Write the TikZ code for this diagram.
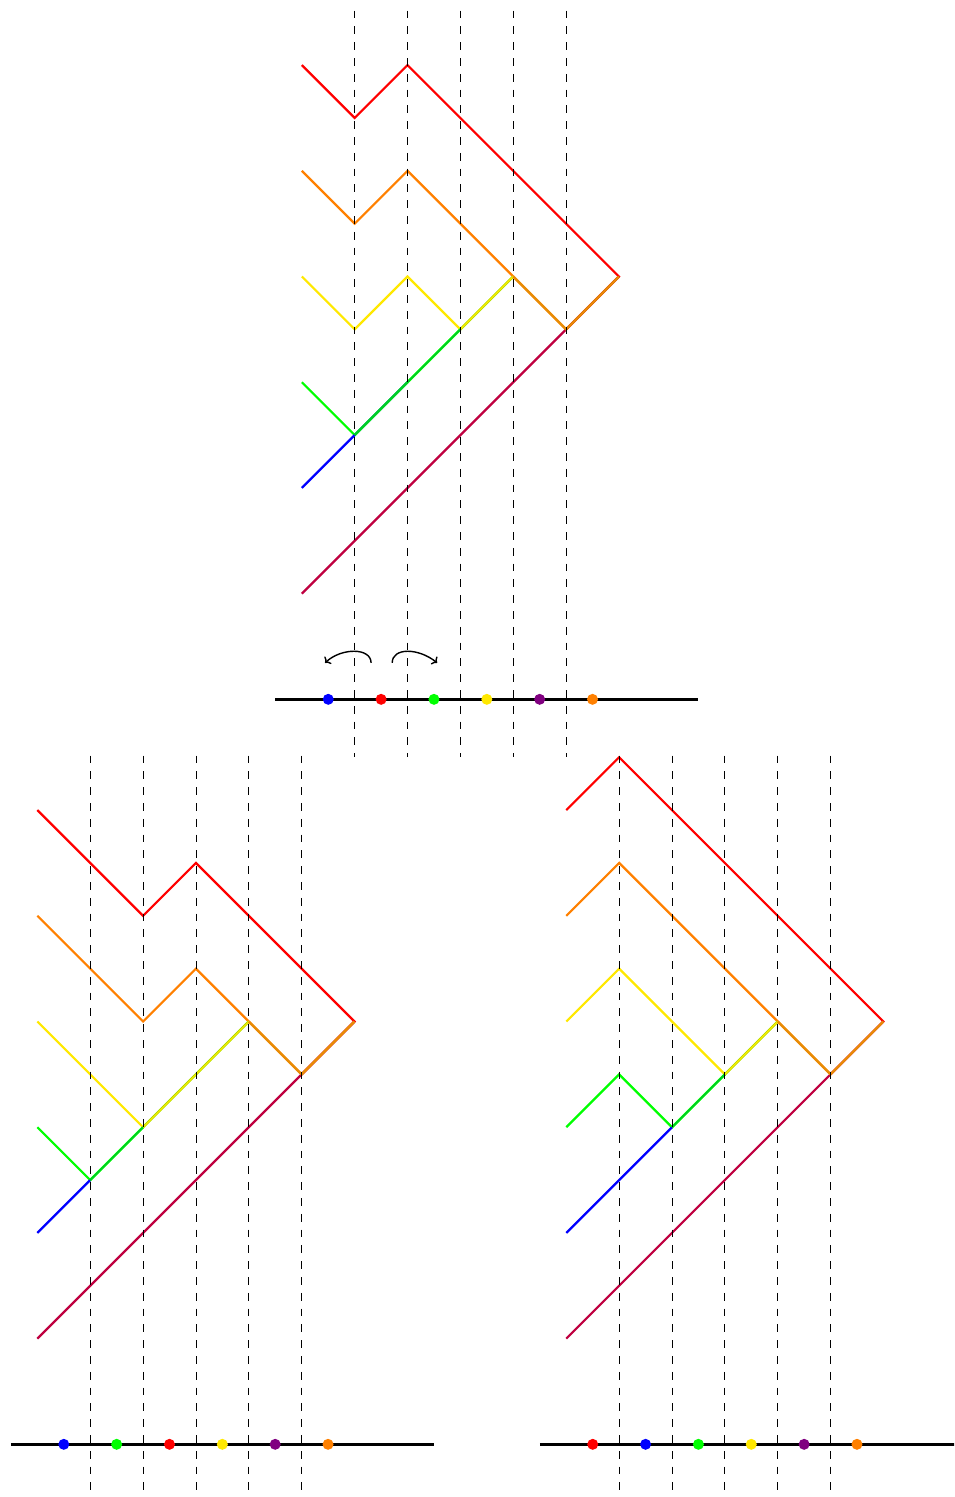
\documentclass[tikz,border=0pt]{standalone}
\usetikzlibrary{arrows.meta}
\definecolor{cred}{RGB}{255,0,0}
\definecolor{corange}{RGB}{255,128,0}
\definecolor{cyellow}{RGB}{255,232,0}
\definecolor{cgreen}{RGB}{0,255,0}
\definecolor{cblue}{RGB}{0,0,255}
\definecolor{cpurple}{RGB}{191,0,64}
\definecolor{cviolet}{RGB}{128,0,128}
\definecolor{mgb}{RGB}{0,180,60}
\definecolor{myg}{RGB}{150,220,0}
\definecolor{morange}{RGB}{232,140,5}
\tikzset{
  strand/.style={draw=#1, line width=2.2pt},
  gbseg/.style={draw=cgreen, line width=0.7pt, double=mgb, double distance=0.8pt},
  ygseg/.style={draw=myg, line width=0.55pt, double=cyellow, double distance=1.1pt},
  omseg/.style={draw=morange, line width=2.2pt},
  gridline/.style={draw=black, line width=0.8pt, dash pattern=on 7.7pt off 8.1pt},
  axisline/.style={draw=black, line width=2.6pt},
  dot/.style={circle, fill=#1, draw=none, inner sep=0pt, minimum size=11pt},
  swaparrow/.style={draw=black, line width=1.4pt, -{To[length=4.5pt,width=10pt]}}
}
\begin{document}
\begin{tikzpicture}[x=52.85pt,y=-52.85pt]
\clip (0,0) rectangle (18.051,28.325);

% ---------------- top diagram ----------------
\begin{scope}[shift={(5.711,1.232)}]
  \draw[strand=cred] (0,0)--(1,1)--(2,0)--(6,4)--(5,5);
  \draw[strand=corange] (0,2)--(1,3)--(2,2)--(5,5)--(6,4);
  \draw[strand=cyellow] (0,4)--(1,5)--(2,4)--(3,5)--(4,4);
  \draw[strand=cgreen] (0,6)--(1,7)--(3,5);
  \draw[strand=cblue] (0,8)--(1,7)--(2,6);
  \draw[strand=cpurple] (0,10)--(5,5)--(6,4);
  \draw[gbseg] (1,7)--(3,5);
  \draw[ygseg] (3,5)--(4,4);
  \draw[omseg] (4,4)--(5,5)--(6,4);
  \draw[axisline] (-0.5,12)--(7.5,12);
  \node[dot=cblue]   (tA) at (0.5,12) {};
  \node[dot=cred]    (tB) at (1.5,12) {};
  \node[dot=cgreen]  (tC) at (2.5,12) {};
  \node[dot=cyellow] (tD) at (3.5,12) {};
  \node[dot=cviolet] (tE) at (4.5,12) {};
  \node[dot=corange] (tF) at (5.5,12) {};
  \foreach \i in {1,...,5} {\draw[gridline] (\i,-1.03)--(\i,13.1);}
  \coordinate (la1) at (1.31,11.31);
  \coordinate (la2) at (0.44,11.31);
  \coordinate (ra1) at (1.71,11.31);
  \coordinate (ra2) at (2.56,11.31);
  \draw[swaparrow] (la1) .. controls (1.31,11.02) and (0.75,11.02) .. (la2);
  \draw[swaparrow] (ra1) .. controls (1.71,11.02) and (2.2,11.02) .. (ra2);
\end{scope}

% ---------------- bottom-left diagram ----------------
\begin{scope}[shift={(0.707,15.328)}]
  \draw[strand=cred] (0,0)--(2,2)--(3,1)--(6,4)--(5,5);
  \draw[strand=corange] (0,2)--(2,4)--(3,3)--(5,5)--(6,4);
  \draw[strand=cyellow] (0,4)--(2,6)--(4,4);
  \draw[strand=cgreen] (0,6)--(1,7)--(2,6);
  \draw[strand=cblue] (0,8)--(1,7);
  \draw[strand=cpurple] (0,10)--(5,5)--(6,4);
  \draw[gbseg] (1,7)--(2,6);
  \draw[ygseg] (2,6)--(4,4);
  \draw[omseg] (4,4)--(5,5)--(6,4);
  \draw[axisline] (-0.5,12)--(7.5,12);
  \node[dot=cblue]   (lA) at (0.5,12) {};
  \node[dot=cgreen]  (lB) at (1.5,12) {};
  \node[dot=cred]    (lC) at (2.5,12) {};
  \node[dot=cyellow] (lD) at (3.5,12) {};
  \node[dot=cviolet] (lE) at (4.5,12) {};
  \node[dot=corange] (lF) at (5.5,12) {};
  \foreach \i in {1,...,5} {\draw[gridline] (\i,-1.03)--(\i,13.2);}
\end{scope}

% ---------------- bottom-right diagram ----------------
\begin{scope}[shift={(10.715,15.328)}]
  \draw[strand=cred] (0,0)--(1,-1)--(6,4)--(5,5);
  \draw[strand=corange] (0,2)--(1,1)--(5,5)--(6,4);
  \draw[strand=cyellow] (0,4)--(1,3)--(3,5)--(4,4);
  \draw[strand=cgreen] (0,6)--(1,5)--(2,6)--(3,5);
  \draw[strand=cblue] (0,8)--(2,6);
  \draw[strand=cpurple] (0,10)--(5,5)--(6,4);
  \draw[gbseg] (2,6)--(3,5);
  \draw[ygseg] (3,5)--(4,4);
  \draw[omseg] (4,4)--(5,5)--(6,4);
  \draw[axisline] (-0.5,12)--(7.5,12);
  \node[dot=cred]    (rA) at (0.5,12) {};
  \node[dot=cblue]   (rB) at (1.5,12) {};
  \node[dot=cgreen]  (rC) at (2.5,12) {};
  \node[dot=cyellow] (rD) at (3.5,12) {};
  \node[dot=cviolet] (rE) at (4.5,12) {};
  \node[dot=corange] (rF) at (5.5,12) {};
  \foreach \i in {1,...,5} {\draw[gridline] (\i,-1.03)--(\i,13.2);}
\end{scope}
\end{tikzpicture}
\end{document}
